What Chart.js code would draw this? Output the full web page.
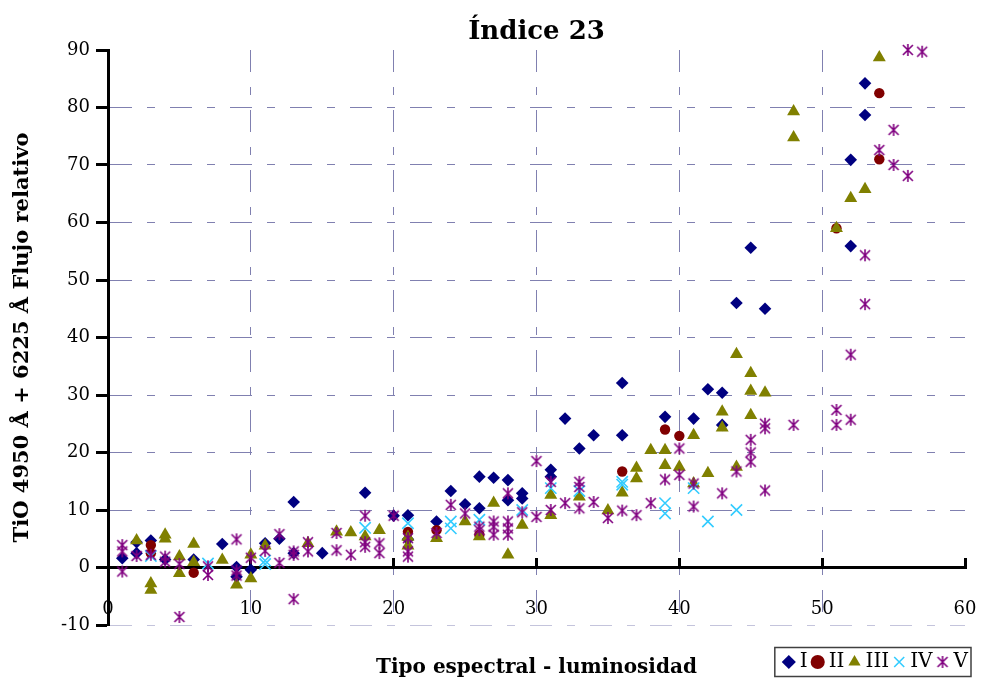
<!DOCTYPE html>
<html>
<head>
<meta charset="utf-8">
<script src="https://cdn.jsdelivr.net/npm/chart.js@4.4.1/dist/chart.umd.min.js"></script>
<style>
html,body{margin:0;padding:0;background:#fff;}
#wrap{width:981px;height:688px;position:relative;}
</style>
</head>
<body>
<div id="wrap"><canvas id="c"></canvas></div>
<script>
// ---- data ----
const SERIES_NAMES = ['I', 'II', 'III', 'IV', 'V'];
const TITLE = 'Índice 23';
const X_TITLE = 'Tipo espectral - luminosidad';
const Y_TITLE = 'TiO 4950 Å + 6225 Å Flujo relativo';
const X_TICKS = [0, 10, 20, 30, 40, 50, 60];
const Y_TICKS = [-10, 0, 10, 20, 30, 40, 50, 60, 70, 80, 90];

const I_X = [1,2,2,3,4,6,8,9,9,10,11,12,13,13,15,18,20,21,21,23,24,25,26,26,27,28,28,29,29,31,31,32,33,34,36,36,39,41,42,43,43,44,45,46,52,52,53,53];
const I_Y = [1.6,4.4,2.5,4.7,1.4,1.4,4.1,0.1,-1.6,-0.4,4.2,5,11.4,2.5,2.5,13,9,9.1,4.9,8,13.3,11,15.8,10.3,15.6,15.2,11.7,12.9,12,17,15.8,25.9,20.7,23,32.1,23,26.2,25.9,31,30.4,24.8,46,55.6,45,70.9,55.9,84.2,78.7];

const II_X = [3,3,6,21,23,26,36,39,40,51,54,54];
const II_Y = [3.9,2.5,-0.9,6.2,6.5,5.7,16.7,24,22.9,59,82.5,71];

const III_X = [2,3,3,4,4,5,5,6,6,8,9,10,10,11,14,16,17,18,19,21,21,23,25,26,27,28,29,31,31,33,35,36,37,37,38,39,39,40,41,41,42,43,43,44,44,45,45,45,46,48,48,51,52,53,54];
const III_Y = [4.7,-2.8,-3.9,5.7,5.0,1.9,-1,4.1,0.9,1.3,-3,2.2,-1.9,3.8,4.2,6.2,6.1,5.4,6.5,5.3,3.8,5.1,8,5.4,11.2,2.2,7.4,12.6,9.1,12.3,9.9,13,17.3,15.5,20.4,20.4,17.8,17.5,23,14.6,16.4,27.1,24.3,37.1,17.5,33.8,30.7,26.5,30.4,79.3,74.8,59,64.2,65.8,88.7];

const IV_X = [3,7,11,11,18,21,24,24,26,29,31,33,36,36,39,39,41,42,44];
const IV_Y = [2,0.7,1.2,0.6,6.9,7.7,8,6.8,8.3,10,13.8,13.3,14.9,14.4,11.2,9.4,13.8,8,10];

const V_X = [1,1,1,2,3,4,4,5,5,7,7,9,9,9,10,11,12,12,13,13,13,14,14,16,16,17,18,18,18,19,19,20,21,21,21,23,24,25,26,26,27,27,27,28,28,28,28,29,30,30,31,31,32,33,33,33,34,35,36,37,38,39,40,40,41,41,43,44,45,45,45,46,46,46,48,51,51,52,52,53,53,54,55,55,56,56,57];
const V_Y = [3.9,2.8,-0.7,2,2.2,1.9,1.0,0.6,-8.6,0.2,-1.3,4.9,-0.5,-1.4,1.7,2.9,5.8,0.8,2.8,2.2,-5.5,4.4,2.8,6,3,2.2,9,4.4,3.6,4.2,2.5,9,5.1,2.8,1.9,6,10.9,9.4,7.1,6.5,8,7.1,5.7,12.9,8,6.8,5.7,9.6,18.5,8.8,14.9,10,11.2,14.9,14,10.3,11.4,8.6,9.9,9.1,11.2,15.3,20.7,16.1,14.6,10.6,12.9,16.7,22.2,20,18.4,25,24.2,13.4,24.8,27.4,24.8,37,25.7,54.3,45.8,72.6,76.1,70,90,68.1,89.7];

// ---- styling ----
const FONT = 'DejaVu Serif';
const GRID = '#8080b0';
const DASH = [22, 15, 8, 15];

function pts(xs, ys) { return xs.map((x, i) => ({x: x, y: ys[i]})); }

function makeAsterisk(color) {
  const s = 14;
  const c = document.createElement('canvas');
  c.width = s; c.height = s;
  const g = c.getContext('2d');
  g.strokeStyle = color; g.lineWidth = 1.6;
  const m = s / 2, r = 6, d = 5;
  g.beginPath();
  g.moveTo(m, m - r); g.lineTo(m, m + r);
  g.moveTo(m - d, m - d); g.lineTo(m + d, m + d);
  g.moveTo(m + d, m - d); g.lineTo(m - d, m + d);
  g.stroke();
  return c;
}
const asterisk = makeAsterisk('#800080');

const datasets = [
  {label: SERIES_NAMES[0], data: pts(I_X, I_Y), pointStyle: 'rectRot', radius: 6.3,
   backgroundColor: '#000080', borderColor: '#000080', borderWidth: 0, order: 4},
  {label: SERIES_NAMES[1], data: pts(II_X, II_Y), pointStyle: 'circle', radius: 5.2,
   backgroundColor: '#800000', borderColor: '#800000', borderWidth: 0, order: 3},
  {label: SERIES_NAMES[2], data: pts(III_X, III_Y), pointStyle: 'triangle', radius: 7.5,
   backgroundColor: '#808000', borderColor: '#808000', borderWidth: 0, order: 2},
  {label: SERIES_NAMES[3], data: pts(IV_X, IV_Y), pointStyle: 'crossRot', radius: 8,
   backgroundColor: '#33ccff', borderColor: '#33ccff', borderWidth: 1.6, order: 1},
  {label: SERIES_NAMES[4], data: pts(V_X, V_Y), pointStyle: asterisk, radius: 7,
   backgroundColor: '#800080', borderColor: '#800080', borderWidth: 1.6, order: 0}
];
datasets.forEach(d => { d.showLine = false; d.clip = false; d.pointHoverRadius = d.radius; });

const legendBox = {
  id: 'legendBox',
  afterDraw(chart) {
    const lg = chart.legend;
    if (!lg || !lg.legendHitBoxes || !lg.legendHitBoxes.length) return;
    const hb = lg.legendHitBoxes;
    const first = hb[0], last = hb[hb.length - 1];
    const ctx = chart.ctx;
    const cy = first.top + first.height / 2;
    ctx.save();
    ctx.strokeStyle = '#404040';
    ctx.lineWidth = 1.5;
    ctx.strokeRect(first.left - 13, cy - 14.5, (last.left + last.width + 3) - (first.left - 13), 29);
    ctx.restore();
  }
};

new Chart(document.getElementById('c'), {
  type: 'scatter',
  data: {datasets: datasets},
  plugins: [legendBox],
  options: {
    responsive: true,
    maintainAspectRatio: false,
    animation: false,
    events: [],
    layout: {padding: {top: 0, left: 0, right: 4, bottom: 6}},
    plugins: {
      tooltip: {enabled: false},
      title: {
        display: true, text: TITLE, color: '#000', fullSize: false,
        font: {family: FONT, size: 26, weight: 'bold'},
        padding: {top: 17, bottom: 1.8}
      },
      legend: {
        display: true, position: 'bottom', align: 'end',
        labels: {
          usePointStyle: true, boxWidth: 2, boxHeight: 10, padding: 9,
          color: '#000', font: {family: FONT, size: 20},
          sort: (a, b) => a.datasetIndex - b.datasetIndex
        }
      }
    },
    scales: {
      x: {
        type: 'linear', min: X_TICKS[0], max: X_TICKS[X_TICKS.length - 1],
        position: {y: 0},
        afterBuildTicks: s => { s.ticks = X_TICKS.map(v => ({value: v})); },
        ticks: {color: '#000', font: {family: FONT, size: 18}, padding: 41.7, maxRotation: 0},
        grid: {drawOnChartArea: false, drawTicks: true, tickLength: -11, tickWidth: 3, tickColor: '#000', color: '#000'},
        border: {display: true, color: '#000', width: 3},
        afterFit: s => { s.height = 0; s.paddingRight = 16; s.paddingLeft = 0; }
      },
      x2: {
        type: 'linear', min: X_TICKS[0], max: X_TICKS[X_TICKS.length - 1],
        position: 'bottom',
        afterBuildTicks: s => { s.ticks = X_TICKS.map(v => ({value: v})); },
        ticks: {display: false},
        grid: {
          drawTicks: false, lineWidth: 1,
          color: c => (c.tick && (c.tick.value === 0 || c.tick.value === 60)) ? 'rgba(0,0,0,0)' : GRID
        },
        border: {display: false, dash: DASH},
        title: {
          display: true, text: X_TITLE, color: '#000',
          font: {family: FONT, size: 20, weight: 'bold'},
          padding: {top: 0, bottom: -37}
        },
        afterFit: s => { s.height = 18; }
      },
      y: {
        type: 'linear', min: Y_TICKS[0], max: Y_TICKS[Y_TICKS.length - 1],
        position: 'left',
        afterBuildTicks: s => { s.ticks = Y_TICKS.map(v => ({value: v})); },
        ticks: {color: '#000', font: {family: FONT, size: 18}, padding: 6},
        grid: {
          lineWidth: 1, tickLength: 12, tickWidth: 3, tickColor: '#000',
          color: c => {
            const v = c.tick ? c.tick.value : null;
            if (v === 90) return 'rgba(0,0,0,0)';
            if (v === -10) return '#c4c4dc';
            return GRID;
          }
        },
        border: {display: true, color: '#000', width: 3, dash: DASH},
        title: {
          display: true, text: Y_TITLE, color: '#000',
          font: {family: FONT, size: 21, weight: 'bold'},
          padding: {top: 10, bottom: 0}
        },
        afterFit: s => { s.width = 108; }
      }
    }
  }
});
</script>
</body>
</html>
